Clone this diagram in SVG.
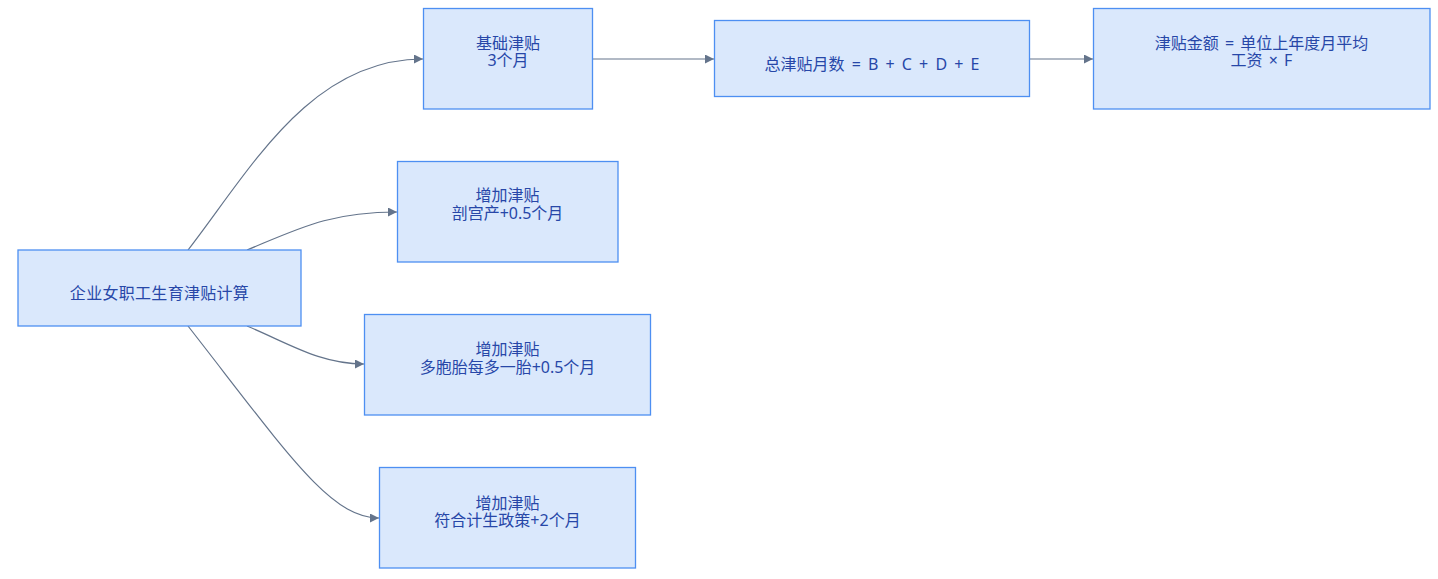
<svg xmlns="http://www.w3.org/2000/svg" width="1438" height="579" viewBox="0 0 1438 579">
<style>
.node rect{fill:#dae8fc;stroke:#4d8ff2;stroke-width:1.3}
.node text{font-family:"Noto Sans","Noto Sans CJK SC",sans-serif;font-size:16px;fill:#2747a8;text-anchor:middle}
.edge{fill:none;stroke:#64748b;stroke-width:1.2}
</style>
<defs>
<marker id="arr" viewBox="0 0 10 10" refX="10" refY="5" markerWidth="10" markerHeight="9" markerUnits="userSpaceOnUse" orient="auto">
<path d="M0,0 L10,5 L0,10 z" fill="#64748b"/>
</marker>
</defs>
<rect width="1438" height="579" fill="#ffffff"/>
<g id="connectors">
<path class="edge" marker-end="url(#arr)" d="M188,250 C250,170 310,59 423,59"/>
<path class="edge" marker-end="url(#arr)" d="M247,250 C300,228 330,212 397,212"/>
<path class="edge" marker-end="url(#arr)" d="M247,326 C290,344 320,364 364,364"/>
<path class="edge" marker-end="url(#arr)" d="M188,326 C288,454 330,518 379,518"/>
<path class="edge" marker-end="url(#arr)" d="M592,59 L714,59"/>
<path class="edge" marker-end="url(#arr)" d="M1029,59 L1093,59"/>
</g>
<g id="root" class="node">
<rect x="18" y="250" width="283" height="76"/>
<text x="159.5" y="298.5" letter-spacing="0.3">企业女职工生育津贴计算</text>
</g>
<g id="B" class="node">
<rect x="423.5" y="8.5" width="169" height="100.5"/>
<text x="508" y="48.5">基础津贴</text>
<text x="508" y="65.5">3个月</text>
</g>
<g id="C" class="node">
<rect x="397.5" y="161.5" width="220.5" height="100.5"/>
<text x="507.5" y="201">增加津贴</text>
<text x="507.5" y="218.5">剖宫产+0.5个月</text>
</g>
<g id="D" class="node">
<rect x="364.5" y="314.5" width="286" height="100.5"/>
<text x="507.5" y="355">增加津贴</text>
<text x="507.5" y="372.5">多胞胎每多一胎+0.5个月</text>
</g>
<g id="E" class="node">
<rect x="379.5" y="467.5" width="256" height="100.5"/>
<text x="507.5" y="508.5">增加津贴</text>
<text x="507.5" y="525.5">符合计生政策+2个月</text>
</g>
<g id="total" class="node">
<rect x="714.5" y="20.5" width="315" height="76"/>
<text x="872" y="69.5" word-spacing="3">总津贴月数 = B + C + D + E</text>
</g>
<g id="F" class="node">
<rect x="1093.5" y="8.5" width="336.5" height="100.5"/>
<text x="1261.5" y="48.5" word-spacing="2">津贴金额 = 单位上年度月平均</text>
<text x="1261.5" y="66" word-spacing="2">工资 × F</text>
</g>
</svg>
